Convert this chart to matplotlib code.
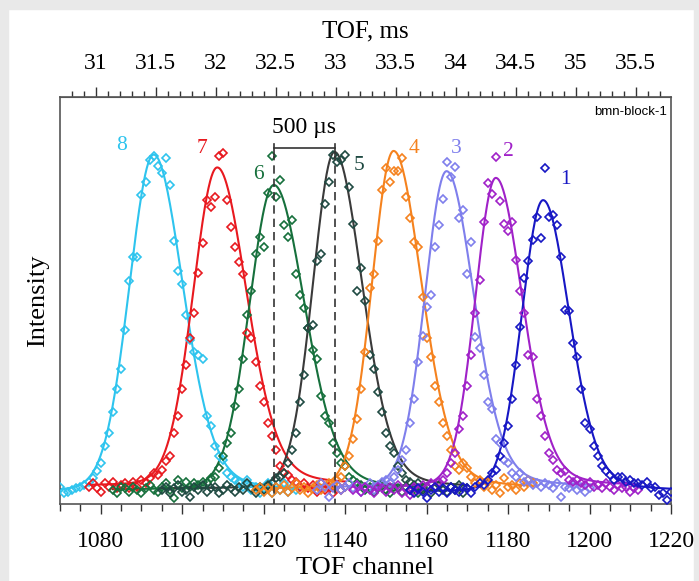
import numpy as np
import matplotlib.pyplot as plt
from matplotlib.ticker import MultipleLocator, FixedLocator
from matplotlib.patches import Rectangle

plt.rcParams['font.family'] = ['Liberation Serif', 'DejaVu Serif']

# measured peaks, one point per TOF channel (intensity in arbitrary units)
names = ['8', '7', '6', '5', '4', '3', '2', '1']
colors = ['#2ec4ee', '#e8191f', '#16703c', '#1f4a42', '#f5821e', '#7f7fec', '#a021c8', '#1717c4']
line_colors = ['#2ec4ee', '#e8191f', '#16703c', '#3a3a3a', '#f5821e', '#7f7fec', '#a021c8', '#1717c4']
starts = [1070, 1077, 1083, 1095, 1118, 1133, 1142, 1156]

y8 = [1, -1, -0.5, 0, 0.5, 1, 1.5, 2.5, 3.5, 5.5,
      8, 13, 17, 23, 30, 36, 47.5, 62, 69, 69,
      87.5, 91.5, 98, 99, 96, 94, 98.4, 90.5, 74, 65,
      61, 52, 44.5, 41, 40, 39, 22, 19, 13, 10,
      9, 5, 4, 3, 2.5, 1, 3, 0, 1, -1,
      0.5, 2, -1, 1, 0, 2, -0.5, 1, 0]
y7 = [1, 2, 0.5,
      -0.5, 2, 1, 2.5, 0.5, 1.5, 2, 0.5, 2.5, 1,
      3, 2, 3.5, 5, 4.5, 6, 8.5, 10, 17, 22,
      30, 37, 45, 52.4, 64.3, 73.2, 86, 84, 86.8, 99,
      100, 86, 78, 72, 67.5, 64, 46.5, 45, 38, 31,
      26, 20, 16, 12, 7, 5, 4.5, 3, 2.5, 1,
      2, 0.5, 1.5, -0.5, 2, 0, 1, -1, 1.5, 0, 1]
y6 = [0, -1, 1, 0.5, -0.5, 1, 0,
      -1, 0.5, 1.5, 0, -0.5, 1, 2, 0, -2.5, 3,
      0.5, 2.5, 1, 2, 1.5, 2.5, 2, 3.5, 4, 6.5,
      10, 14, 17, 25, 30, 39, 52, 59, 70, 75,
      72, 88, 99, 87, 92, 78.6, 75, 80, 64, 58,
      54, 48, 41.5, 39, 28, 22, 20, 14, 11, 8,
      7, 4, 3, 2, 1.5, 0, 1, -0.5, 0.5, 2,
      0, -1, 1, 0.5, -0.5, 1, 0, 1.5, -1, 0.5, 1]
y5 = [0, 1, -1, 0.5, 1.5,
      -0.5, 0, -2, 1, 0, 1.5, -0.5, 0.5, 1, -1,
      0, 1.5, 0.5, -0.5, 1, 0, 2, 0.5, -1, 1,
      0, 1.5, 2, 3.5, 4, 5, 8, 12, 17, 26,
      34, 48, 49, 68, 70, 85, 91.5, 99.4, 97.4, 98,
      99.4, 90, 79, 59, 66, 56, 40, 36, 29, 23,
      17, 13, 11, 7, 5, 3, 2.5, 1, 2, 0,
      1, -1, 0.5, 1.5, 0, -0.5, 1, 0, 1.5, -1, 0.5]
y4 = [0, 1,
      -0.5, 0.5, -1, 1, 0, 1.5, -0.5, 0.5, 2, 0,
      1, -1, 0.5, 1.5, 0, 1, 2, 1.5, 3, 4,
      7, 10, 15, 21, 30, 41, 60, 64, 74, 89,
      95.5, 91.5, 94.5, 94.5, 98.4, 87, 80.6, 73.7, 72, 57.4,
      45, 39.4, 31, 26, 20, 16, 12, 7, 6, 8,
      6.5, 4, 2, 3, 1, 2.5, 0, 1.5, -1, 3.5,
      1, 1.5, 0, 2, 1, 3, 2]
y3 = [0, 2, 1, -2, 0.5, 1.5, 0,
      1, 2, 0.5, 1.5, -0.5, 1, 2, 0, 1.5, 2.5,
      3, 2, 4, 6, 9, 12, 20, 27, 38, 45.7,
      54.4, 58, 72, 78.6, 86.4, 97.4, 93, 95.7, 80.6, 83,
      64, 73.7, 45.5, 42, 34, 26, 24, 15, 14, 9,
      8, 5, 4, 5, 2.5, 3, 1.5, 2, 1, 2,
      1.5, 0.5, 2, -2, 1, 0.5, 1.5, 0, 1, -0.5, 0.5]
y2 = [0, 1.5, -0.5, 1, 0, -1, 1, 0.5,
      -0.5, 1, 0, 1.5, -1, 0.5, -1.5, 1, 0, 1.5,
      1, 2, 1, 2.5, 3, 5, 8, 11, 18, 22,
      31, 40, 52.4, 62.3, 79.6, 91, 87.8, 98.9, 85.8, 79,
      76.7, 79.6, 68.3, 58.9, 52.4, 40, 39.4, 27, 22, 16,
      11, 9, 6, 5, 5.5, 3, 2.5, 3, 2, 1.5,
      2.5, 1, 1.5, 0.5, 2, 1, 0, 1.5, 0.5, 1,
      -0.5, 0.5, 0]
y1 = [0, -1, 0.5, -0.5,
      -2.5, 0, 1, -0.5, 0.5, -1, 1, 0, -0.5, 1,
      0.5, -1, 1, 2, 1.5, 3, 5, 6, 10, 14,
      19, 27, 37, 48.5, 62.8, 67.8, 74.2, 81, 74.7, 95.5,
      81, 81.6, 78.6, 69.2, 53.4, 53, 43.7, 39.4, 30, 20,
      18, 13, 10, 7, 5.5, 4.5, 3, 4, 4, 2.5,
      3, 2, 2, 1.5, 2.5, 0.5, 1, -1.5, -1, -3, -0.5]
series = [y8, y7, y6, y5, y4, y3, y2, y1]

# fitted peak parameters: centre channel, height, left / right half widths, baseline
centres = [1093.0, 1108.6, 1122.5, 1137.4, 1151.9, 1164.9, 1177.0, 1188.6]
heights = [100, 94.5, 90.5, 100, 100.4, 94, 91.8, 86.6]
w_left = [7.1, 7.0, 7.1, 6.3, 6.3, 6.3, 6.0, 6.2]
w_right = [8.6, 8.6, 9.0, 8.1, 8.2, 8.0, 7.8, 7.7]
bases = [-0.5, 1.2, 0, 0.3, 0.2, 0.6, 0.8, -0.6]

# where the peak numbers sit
label_x = [1085.1, 1104.8, 1118.7, 1143.5, 1156.9, 1167.2, 1180.1, 1194.2]
label_y = [102.1, 101.4, 93.5, 96.4, 101.4, 101.4, 100.4, 92.0]

ms_ticks = [31, 31.5, 32, 32.5, 33, 33.5, 34, 34.5, 35, 35.5]


def peak(ch, c, h, wl, wr, b, eta_l=0.08, eta_r=0.2):
    d = ch - c
    u2 = (d / np.where(d < 0, wl, wr)) ** 2
    g = 2.0 ** (-u2)
    lor = 1 / (1 + u2)
    eta = np.where(d < 0, eta_l, eta_r)
    return b + h * ((1 - eta) * g + eta * lor)


def ch_to_ms(ch):
    return 31 + (ch - 1078.76) * 0.033944


def ms_to_ch(ms):
    return 1078.76 + (ms - 31) / 0.033944


fig = plt.figure(figsize=(6.99, 5.81), dpi=100)
fig.patches.append(Rectangle((0, 0), 8 / 699, 1, transform=fig.transFigure, color='#e9e9e9', zorder=-5))
fig.patches.append(Rectangle((0, 1 - 9 / 581), 1, 9 / 581, transform=fig.transFigure, color='#e9e9e9', zorder=-5))
fig.patches.append(Rectangle((1 - 5 / 699, 0), 5 / 699, 1, transform=fig.transFigure, color='#e9e9e9', zorder=-5))
ax = fig.add_axes([60 / 699, 1 - 504 / 581, 611 / 699, 407 / 581])

for i in range(len(series)):
    vals = np.array(series[i], dtype=float)
    ch = np.arange(starts[i], starts[i] + len(vals))
    fine = np.linspace(ch[0], ch[-1], 600)
    ax.plot(fine, peak(fine, centres[i], heights[i], w_left[i], w_right[i], bases[i]),
            color=line_colors[i], lw=1.5, zorder=2)
    ax.plot(ch, vals, ls='none', marker='D', ms=4.5, mfc='none', mec=colors[i], mew=1.2, zorder=3)
    ax.text(label_x[i], label_y[i], names[i], color=colors[i], fontsize=15.5, ha='center', va='center')

# 500 us bracket between peaks 6 and 5
x_a, x_b = centres[2], centres[3]
ax.plot([x_a, x_a], [-5, 99], color='#333333', lw=1.2, ls=(0, (5, 3)), zorder=4)
ax.plot([x_b, x_b], [-5, 99], color='#333333', lw=1.2, ls=(0, (5, 3)), zorder=4)
ax.plot([x_a, x_a], [98.8, 102.8], color='#333333', lw=1.2, zorder=4)
ax.plot([x_b, x_b], [98.8, 102.8], color='#333333', lw=1.2, zorder=4)
ax.plot([x_a, x_b], [101.4, 101.4], color='#333333', lw=1.2, zorder=4)
ax.text((x_a + x_b) / 2, 105.9, '500 µs', fontsize=17, ha='center', va='baseline')

ax.text(0.9935, 0.963, 'bmn-block-1', transform=ax.transAxes, ha='right', va='center',
        fontsize=9.5, family='Liberation Sans')

ax.set_xlim(1070, 1220)
ax.set_ylim(-4.15, 116.6)
ax.set_yticks([])
ax.xaxis.set_major_locator(MultipleLocator(20))
ax.xaxis.set_minor_locator(MultipleLocator(5))
ax.tick_params(axis='x', which='major', direction='out', length=7.5, width=1, pad=12, labelsize=17, color='#333333')
ax.tick_params(axis='x', which='minor', direction='out', length=5, width=1, color='#333333')
for s in ax.spines.values():
    s.set_color('#555555')
    s.set_linewidth(1.2)
ax.set_xlabel('TOF channel', fontsize=19, labelpad=3.5)
ax.set_ylabel('Intensity', fontsize=19, labelpad=8)

top = ax.secondary_xaxis('top', functions=(ch_to_ms, ms_to_ch))
top.xaxis.set_major_locator(FixedLocator(ms_ticks))
top.xaxis.set_minor_locator(MultipleLocator(0.1))
top.xaxis.set_major_formatter(plt.FuncFormatter(lambda v, p: '%g' % v))
top.tick_params(which='major', direction='out', length=7.5, width=1, pad=9, labelsize=17, color='#333333')
top.tick_params(which='minor', direction='out', length=4, width=1, color='#333333')
top.spines['top'].set_color('#555555')
top.set_xlabel('TOF, ms', fontsize=18, labelpad=11.5)

fig.savefig('out.png', dpi=100, facecolor='white')
